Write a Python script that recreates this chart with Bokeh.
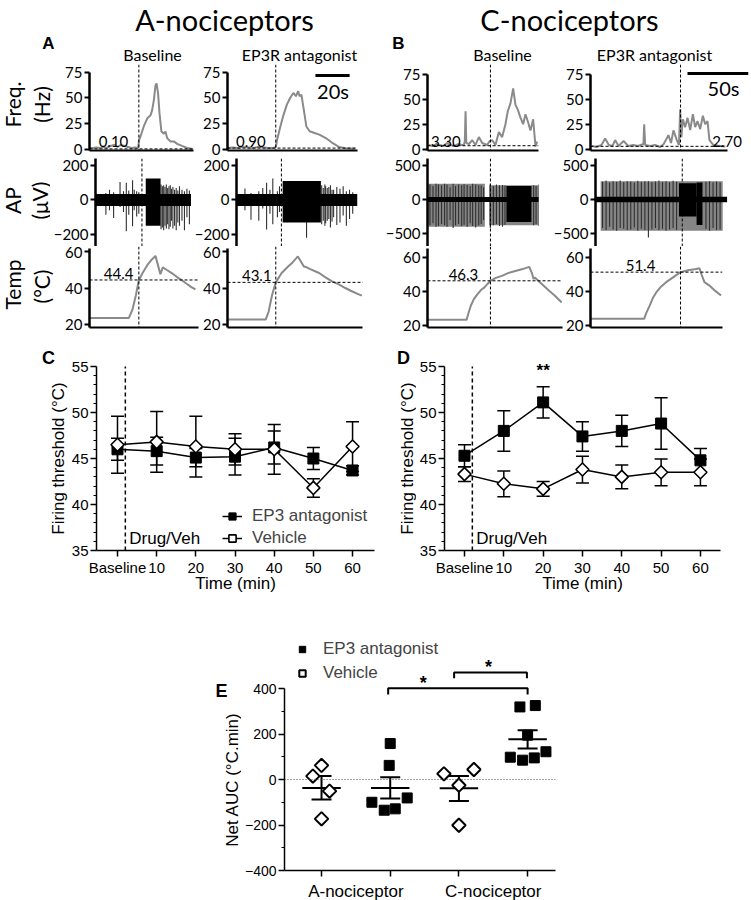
import math
from bokeh.plotting import figure
from bokeh.models import (Range1d, FixedTicker, Span, Whisker, TeeHead, ColumnDataSource,
                          Legend, LegendItem, Spacer)
from bokeh.layouts import row, column
from bokeh.embed import file_html
from bokeh.resources import INLINE
from bokeh.core.properties import value

TOP_FONT = "Lato"
BOT_FONT = "Liberation Sans"
TRACE = "#8a8a8a"

# ================= DATA: recordings (time in s) =================
# A-nociceptor baseline
a1_freq_t = [0, 2, 4, 6, 8, 10, 12, 14, 16, 18, 20, 22, 24, 26, 27.8, 28.3, 29.1, 31.0, 33.0, 34.9,
             35.8, 36.8, 37.7, 38.3, 39.2, 40.0, 41.1, 42.5, 43.4, 44.4, 46.3, 48.2, 50.1, 52.9, 55.8, 59.0]
a1_freq_hz = [1, 1, 1.5, 1, 2, 1, 3, 4, 2, 4, 3, 2, 1, 1.5, 1, 9, 12, 22, 30, 33,
              38, 48, 62, 64, 54, 35, 17, 15, 17, 10.6, 7.4, 7.4, 5, 3, 1, 0]
a1_temp_t = [0, 22.5, 24.5, 26.5, 28.2, 30.5, 33, 35.5, 37.7, 40.5, 41.9, 44, 47, 50, 52.4, 55.5, 58, 60.5]
a1_temp_c = [23.6, 23.6, 28, 36, 44.4, 48.5, 52.5, 55.5, 57.6, 47.6, 51.3, 50, 48.2, 46, 44.5, 42.3, 40.6, 39.2]
a1_ap_blk = dict(t0=[30.5], t1=[39.5], lo=[-150], hi=[125])
a1_ap_gray = dict(t0=[], t1=[], lo=[], hi=[])
a1_sp_t = [6.3, 8.5, 11.0, 14.9, 17.0, 18.7, 20.2, 22.5, 23.5, 25.0, 26.3,
           39.8, 40.6, 41.4, 42.2, 43.0, 43.8, 44.6, 45.4, 46.2, 47.0, 48.0, 49.0, 50.0,
           51.0, 52.5, 54.0, 55.5, 57.0, 58.5]
a1_sp_lo = [-86, -60, -105, -40, -70, -181, -86, -152, -60, -95, -80,
            -170, -160, -175, -150, -165, -140, -170, -155, -120, -165, -150, -175, -130,
            -150, -120, -175, -100, -140, -60]
a1_sp_hi = [40, 60, 45, 105, 50, 100, 55, 114, 60, 50, 45,
            90, 80, 85, 75, 90, 70, 80, 85, 65, 75, 60, 70, 55,
            80, 60, 50, 65, 55, 50]

# A-nociceptor EP3R antagonist
a2_freq_t = [0, 3, 6, 9, 12, 15, 18, 21, 24, 27, 28.3, 29, 30.9, 32.8, 34.7, 36.6, 38.5, 40, 41.3, 42.2,
             43.2, 44.6, 46.1, 48, 50.9, 53.7, 57.5, 61.3, 65.1, 68.9, 74.7]
a2_freq_hz = [1, 1.5, 1, 2, 1.5, 1, 2, 1.5, 1, 1, 2, 9.1, 22, 33.6, 43.3, 49.8, 54.7, 51.5, 56.4, 51.5,
              53.1, 38.4, 22, 17.3, 15.6, 14, 10.7, 5.9, 2, 0.7, 0.3]
a2_temp_t = [0, 22.3, 24, 26, 28.2, 31.6, 35.4, 38, 41.1, 44.6, 46, 48, 53.5, 57, 61.1, 65, 68.8, 72, 76, 78.5]
a2_temp_c = [22.7, 22.7, 27, 36, 43.1, 48.2, 51.8, 54, 57.3, 51.8, 51.5, 50.5, 48.2, 46, 43.6, 42, 40, 38.5, 36.8, 35.8]
a2_ap_blk = dict(t0=[29.0], t1=[53.0], lo=[-130], hi=[110])
a2_ap_gray = dict(t0=[], t1=[], lo=[], hi=[])
a2_sp_t = [5.3, 9.1, 14.0, 16.5, 18.9, 21.0, 22.8, 25.7, 27.0, 44.0, 53.5, 54.5, 55.5, 56.0, 57.0,
           58.0, 59.0, 60.0, 61.0, 63.0, 65.0, 67.0, 69.0, 71.0, 73.0]
a2_sp_lo = [-60, -114, -120, -50, -171, -80, -140, -100, -70, -219, -140, -120, -150, -135, -120,
            -110, -160, -125, -100, -145, -130, -90, -150, -110, -80]
a2_sp_hi = [67, 40, 50, 70, 100, 60, 124, 50, 80, 60, 85, 70, 90, 80, 70,
            75, 85, 60, 60, 75, 65, 80, 50, 60, 45]

# C-nociceptor baseline
b1_freq_t = [1.1, 4, 7, 10, 13, 16, 19, 22, 25, 28, 29.8, 30.6, 31.2, 31.8, 34, 36.6, 39.3, 42.1, 44.8, 48.9,
             51, 53, 55.7, 58.5, 61.2, 63.9, 65.8, 68, 70.2, 72.1, 74, 76.2, 78.4, 80.3, 82.2, 84.4, 86.6, 88.5, 89.9]
b1_freq_hz = [4, 3, 5, 4, 3, 6, 4, 3, 5, 4, 4, 8, 38, 6, 5, 9, 4, 12, 6, 4,
              8, 9, 4, 17, 12, 25, 38, 46, 61, 44.5, 39.7, 31.6, 25, 35, 28, 18.7, 30, 2.6, 7.4]
b1_temp_t = [0, 32, 33.5, 35.5, 38, 41, 44, 46.5, 49, 51.6, 56, 61, 66, 72, 78, 83.4, 85.5, 86.9, 88, 91.5, 95, 99.7, 104, 110]
b1_temp_c = [23.3, 23.3, 27, 31.6, 35.5, 38.4, 41, 42.3, 44.3, 46.3, 48, 49.2, 50.8, 52.1, 53.2, 54.5, 51, 47.3, 48.2, 45.9, 43.5, 40.4, 37.8, 33.5]
b1_ap_blk = dict(t0=[64.7], t1=[85.2], lo=[-330], hi=[200])
b1_ap_gray = dict(t0=[0.5, 50.5], t1=[47.0, 91.5], lo=[-400, -380], hi=[230, 210])
b1_sp_t = [2, 4.5, 7, 9, 11.5, 14, 16, 18.5, 21, 23, 25.5, 28, 30, 32.5, 35, 37, 39.5, 42, 44, 46,
           51.5, 54, 56.5, 59, 61.5, 63.5, 87, 89, 91]
b1_sp_lo = [-380, -350, -400, -390, -360, -380, -400, -300, -420, -380, -360, -390, -370, -400, -350, -390, -410, -380, -360, -300,
            -420, -380, -360, -390, -400, -370, -380, -360, -390]
b1_sp_hi = [220, 200, 230, 220, 210, 230, 220, 180, 230, 200, 220, 210, 225, 215, 200, 230, 220, 210, 205, 180,
            230, 200, 220, 210, 215, 205, 210, 200, 220]

# C-nociceptor EP3R antagonist
b2_freq_t = [1.1, 5, 9, 12, 15, 18, 20.2, 23, 27.1, 31, 35.2, 39, 43.4, 44, 44.8, 48.9, 53, 57.1, 60, 63.9,
             66, 68, 70.8, 72.5, 73.5, 74.5, 75.7, 77.6, 79.5, 81.7, 83.9, 85.8, 87.7, 89.9, 92.1, 94, 95.9, 97.5, 100.8, 106.3, 110.4]
b2_freq_hz = [3, 2, 4, 10.6, 4, 3, 9, 3, 8, 3, 4, 3, 5, 25, 4, 3, 4, 2, 5, 14,
              6, 18.7, 9, 4, 40, 12, 30, 22, 31.6, 19, 35, 22, 28, 20, 33.5, 25, 28, 9, 4, 3, 2.5]
b2_temp_t = [0, 44, 45.5, 48.6, 51, 54, 58, 62, 68, 73.8, 80, 86.6, 89.3, 91.5, 93.4, 97.5, 102, 107]
b2_temp_c = [23.9, 23.9, 27, 31.8, 36, 39.6, 43, 45.5, 48.5, 51.4, 52.5, 53.3, 53.7, 49, 45.5, 43.5, 40.5, 37.6]
b2_ap_blk = dict(t0=[71, 86], t1=[86, 91], lo=[-250, -375], hi=[240, 250])
b2_ap_gray = dict(t0=[4.4], t1=[108.2], lo=[-460], hi=[270])
b2_sp_t = [6, 9, 12, 15, 18, 21, 24, 27, 30, 33, 36, 39, 42, 45, 48, 51, 54, 57, 60, 63, 66, 69,
           94, 97, 100, 103, 106]
b2_sp_lo = [-420, -450, -400, -440, -460, -420, -430, -450, -440, -410, -460, -430, -450, -560, -440, -420, -450, -430, -460, -440, -420, -450,
            -430, -460, -420, -450, -440]
b2_sp_hi = [260, 280, 250, 270, 260, 280, 255, 270, 265, 250, 275, 260, 270, 270, 255, 265, 280, 260, 270, 255, 275, 260,
            260, 270, 255, 265, 250]

# thresholds / baselines
thr_time = [28.2, 28.2, 51.6, 73.8]
thr_temp = [44.4, 43.1, 46.3, 51.4]
thr_lbl = ["44.4", "43.1", "46.3", "51.4"]
base_freq = [0.10, 0.90, 3.30, 2.70]
base_lbl = ["0.10", "0.90", "3.30", "2.70"]
ap_band = [35, 35, 38, 42]

# ================= DATA: time course (C, D) =================
time_ticks = [0, 10, 20, 30, 40, 50, 60]
time_labels = ["Baseline", "10", "20", "30", "40", "50", "60"]
drug_time = 2
c_ep3 = [46.0, 45.8, 45.1, 45.2, 46.2, 45.0, 43.7]
c_ep3_err = [1.2, 1.5, 1.0, 2.0, 1.8, 1.2, 0.5]
c_veh = [46.5, 46.8, 46.3, 46.0, 46.0, 41.8, 46.3]
c_veh_err = [3.1, 3.3, 3.3, 1.7, 2.7, 1.0, 2.7]
d_ep3 = [45.3, 48.0, 51.1, 47.4, 48.0, 48.8, 44.8]
d_ep3_err = [1.2, 2.2, 1.7, 1.6, 1.7, 2.8, 1.3]
d_veh = [43.3, 42.25, 41.7, 43.8, 43.0, 43.5, 43.5]
d_veh_err = [0.8, 1.4, 0.8, 1.45, 1.3, 1.45, 1.45]

# ================= DATA: net AUC (E) =================
e_groups = ["A-nociceptor", "C-nociceptor"]
e_pos = [1, 2, 3, 4]  # A veh, A EP3, C veh, C EP3
e_aveh = [15, 62, -51, -173]
e_aveh_dx = [-0.126, 0.0, 0.117, 0.0]
e_aep3 = [158, 62, -100, -135, -129, -81]
e_aep3_dx = [0.0, -0.015, -0.267, -0.087, 0.073, 0.247]
e_cveh = [25, -25, 44, -201]
e_cveh_dx = [-0.218, 0.0, 0.218, 0.0]
e_cep3 = [319, 325, 195, 98, 85, 95, 122]
e_cep3_dx = [-0.112, 0.112, 0.0, -0.252, -0.073, 0.097, 0.267]
e_mean = [-37, -37, -39, 177]
e_sem_hi = [15, 10, 15, 217]
e_sem_lo = [-88, -84, -95, 136]


# ================= helpers =================
def blank_fig(w, h, x0, x1, ytop, ybot, top=0, bottom=0):
    p = figure(frame_width=w, frame_height=h, x_range=Range1d(x0, x1), y_range=Range1d(ybot, ytop),
               x_axis_type=None, y_axis_type=None, output_backend="svg", toolbar_location=None,
               min_border_left=0, min_border_right=0, min_border_top=top, min_border_bottom=bottom)
    p.grid.visible = False
    p.outline_line_color = None
    return p


def trace_fig(w, left, right, h, bottom, xend, y0, y1, yticks, yb1, xb_end):
    p = figure(width=w, height=h + bottom, x_range=Range1d(0, xend), y_range=Range1d(y0, y1),
               output_backend="svg", toolbar_location=None,
               min_border_left=left, min_border_right=right, min_border_top=0, min_border_bottom=bottom)
    p.grid.visible = False
    p.outline_line_color = None
    ya = p.yaxis[0]
    ya.ticker = FixedTicker(ticks=yticks, minor_ticks=[])
    ya.bounds = (y0, yb1)
    ya.axis_line_width = 2.5
    ya.major_tick_line_width = 2
    ya.major_tick_out = 5
    ya.major_tick_in = 0
    ya.minor_tick_out = 0
    ya.minor_tick_in = 0
    ya.major_label_text_font = TOP_FONT
    ya.major_label_text_font_size = "15px"
    ya.major_label_text_color = "black"
    ya.major_label_standoff = 2
    xa = p.xaxis[0]
    if xb_end is None:
        xa.visible = False
    else:
        xa.ticker = FixedTicker(ticks=[], minor_ticks=[])
        xa.bounds = (0, xb_end)
        xa.axis_line_width = 2
        xa.major_tick_out = 0
        xa.major_tick_in = 0
        xa.minor_tick_out = 0
        xa.minor_tick_in = 0
        xa.major_label_text_font_size = "0px"
        xa.major_label_standoff = 0
    return p


def vspan(p, t):
    p.add_layout(Span(location=t, dimension="height", line_color="black",
                      line_width=1, line_dash="3 2"))


def draw_freq(p, t, hz, i, base_end, lbl_x):
    p.line(t, hz, line_color=TRACE, line_width=2)
    p.line([0, base_end], [base_freq[i], base_freq[i]], line_color="black", line_width=1, line_dash="3 2")
    p.text([lbl_x], [2.0], [base_lbl[i]], text_font=value(TOP_FONT), text_font_size="15px",
           text_align="center", text_baseline="bottom", text_color="black")
    vspan(p, thr_time[i])


def draw_ap(p, i, t_end, gray, blk, sp_t, sp_lo, sp_hi):
    p.quad(left=gray["t0"], right=gray["t1"], bottom=gray["lo"], top=gray["hi"],
           fill_color="#858585", line_color=None)
    p.segment(x0=sp_t, y0=sp_lo, x1=sp_t, y1=sp_hi, line_color="#303030", line_width=1.1)
    p.quad(left=[0], right=[t_end], bottom=[-ap_band[i]], top=[ap_band[i]],
           fill_color="black", line_color=None)
    p.quad(left=blk["t0"], right=blk["t1"], bottom=blk["lo"], top=blk["hi"],
           fill_color="black", line_color=None)
    vspan(p, thr_time[i])


def draw_temp(p, t, c, i, line_end, lbl_x):
    p.line(t, c, line_color=TRACE, line_width=2)
    p.line([0, line_end], [thr_temp[i], thr_temp[i]], line_color="black", line_width=1, line_dash="3 2")
    p.text([lbl_x], [thr_temp[i] + 0.5], [thr_lbl[i]], text_font=value(TOP_FONT), text_font_size="15px",
           text_align="center", text_baseline="bottom", text_color="black")
    vspan(p, thr_time[i])


PX_A = 1.75   # px per second, A traces
PX_B = 1.22   # px per second, B traces
FB = 8        # bottom border of the frequency panels
TB = 7        # bottom border of the temperature panels
AP_T = 150 + FB   # AP frame top (page px)
AP_H = 246 - AP_T
A_TOP = 200 + (165 - AP_T) / 0.1725   # 200 uV drawn at page y 165
B_TOP = 500 + (165 - AP_T) / 0.068    # 500 uV drawn at page y 165

# ================= header =================
hdr = blank_fig(751, 64, 0, 751, 0, 64)
hdr.text([224, 569], [19, 19], ["A-nociceptors", "C-nociceptors"], text_font=value(TOP_FONT),
         text_font_size="29px", text_align="center", text_baseline="middle", text_color="black")
hdr.text([48, 398], [43, 43], ["A", "B"], text_font=value(BOT_FONT), text_font_style="bold",
         text_font_size="17px", text_align="center", text_baseline="middle", text_color="black")
hdr.text([152, 299, 502, 654], [54, 54, 54, 54], ["Baseline", "EP3R antagonist", "Baseline", "EP3R antagonist"],
         text_font=value(TOP_FONT), text_font_size="16px", text_align="center", text_baseline="middle",
         text_color="black")

# ================= frequency row (frame y 64-150) =================
lab_f = blank_fig(55, 86, 0, 55, 64, 150, bottom=FB)
lab_f.text([12, 41], [104, 104], ["Freq.", "(Hz)"], angle=math.pi / 2, text_font=value(TOP_FONT),
           text_font_size="21px", text_align="center", text_baseline="middle", text_color="black")

fA1 = trace_fig(145, 34, 7, 86, FB, 104 / PX_A, -1.46, 82.5, [0, 25, 50, 75], 75, 104 / PX_A)
draw_freq(fA1, a1_freq_t, a1_freq_hz, 0, 104 / PX_A, 13.7)
fA2 = trace_fig(175, 24, 18, 86, FB, 133 / PX_A, -1.46, 82.5, [0, 25, 50, 75], 75, 133 / PX_A)
draw_freq(fA2, a2_freq_t, a2_freq_hz, 1, 133 / PX_A, 13.7)
fA2.segment(x0=[51.4], y0=[71.8], x1=[71.4], y1=[71.8], line_color="black", line_width=3)
fA2.text([61.7], [57], ["20s"], text_font=value(TOP_FONT), text_font_size="20px",
         text_align="center", text_baseline="middle", text_color="black")
fB1 = trace_fig(180, 52, 17, 86, FB, 111 / PX_B, -1.51, 85.1, [0, 25, 50, 75], 75, 111 / PX_B)
draw_freq(fB1, b1_freq_t, b1_freq_hz, 2, 111 / PX_B, 15)
fB2 = trace_fig(196, 35, 3, 86, FB, 158 / PX_B, -1.51, 85.1, [0, 25, 50, 75], 75, 112)
draw_freq(fB2, b2_freq_t, b2_freq_hz, 3, 110.7, 112)
fB2.segment(x0=[79.5], y0=[76], x1=[129.5], y1=[76], line_color="black", line_width=3)
fB2.text([109], [61], ["50s"], text_font=value(TOP_FONT), text_font_size="20px",
         text_align="center", text_baseline="middle", text_color="black")

# ================= AP row =================
lab_ap = blank_fig(50, AP_H, 0, 50, AP_T, 246)
lab_ap.text([12, 38.5], [200, 200], ["AP", "(\u03bcV)"], angle=math.pi / 2, text_font=value(TOP_FONT),
            text_font_size="21px", text_align="center", text_baseline="middle", text_color="black")
apA1 = trace_fig(141, 39, 0, AP_H, 0, 102 / PX_A, -269.6, A_TOP, [-200, 0, 200], A_TOP, None)
draw_ap(apA1, 0, 59.5, a1_ap_gray, a1_ap_blk, a1_sp_t, a1_sp_lo, a1_sp_hi)
apA2 = trace_fig(184, 33, 18, AP_H, 0, 133 / PX_A, -269.6, A_TOP, [-200, 0, 200], A_TOP, None)
draw_ap(apA2, 1, 76, a2_ap_gray, a2_ap_blk, a2_sp_t, a2_sp_lo, a2_sp_hi)
apB1 = trace_fig(175, 52, 12, AP_H, 0, 111 / PX_B, -691, B_TOP, [-500, 0, 500], B_TOP, None)
draw_ap(apB1, 2, 91.5, b1_ap_gray, b1_ap_blk, b1_sp_t, b1_sp_lo, b1_sp_hi)
apB2 = trace_fig(201, 40, 24, AP_H, 0, 137 / PX_B, -691, B_TOP, [-500, 0, 500], B_TOP, None)
draw_ap(apB2, 3, 112, b2_ap_gray, b2_ap_blk, b2_sp_t, b2_sp_lo, b2_sp_hi)

# ================= temperature row (frame y 246-327) =================
lab_t = blank_fig(55, 81, 0, 55, 246, 327, bottom=TB)
lab_t.text([12, 41], [284, 286], ["Temp", "(\u00b0C)"], angle=math.pi / 2, text_font=value(TOP_FONT),
           text_font_size="21px", text_align="center", text_baseline="middle", text_color="black")
tA1 = trace_fig(145, 34, 1, 81, TB, 110 / PX_A, 18.36, 62.74, [20, 40, 60], 61.6, 62)
draw_temp(tA1, a1_temp_t, a1_temp_c, 0, 62, 16.6)
tA2 = trace_fig(175, 24, 12, 81, TB, 139 / PX_A, 18.36, 62.74, [20, 40, 60], 61.6, 79)
draw_temp(tA2, a2_temp_t, a2_temp_c, 1, 79, 17.1)
tB1 = trace_fig(188, 52, 1, 81, TB, 135 / PX_B, 18.8, 66.5, [20, 40, 60], 65.3, 110.7)
draw_temp(tB1, b1_temp_t, b1_temp_c, 2, 110.7, 29.5)
tB2 = trace_fig(188, 27, 24, 81, TB, 137 / PX_B, 18.8, 66.5, [20, 40, 60], 65.3, 108)
draw_temp(tB2, b2_temp_t, b2_temp_c, 3, 108, 41)


# ================= C / D =================
R2_TOP, R2_FT, R2_FB = 327 + TB, 337, 550   # row top, frame top, frame bottom (page px)
R2_BT, R2_BB = R2_FT - R2_TOP, 52           # top / bottom borders


def style_axis(ax, tick_size="15px"):
    ax.axis_line_width = 1.5
    ax.major_tick_line_width = 1.5
    ax.minor_tick_line_width = 1.2
    ax.major_tick_out = 6
    ax.major_tick_in = 0
    ax.minor_tick_out = 3
    ax.minor_tick_in = 0
    ax.major_label_text_font = BOT_FONT
    ax.major_label_text_font_size = tick_size
    ax.major_label_text_color = "black"
    ax.major_label_standoff = 2
    ax.axis_label_text_font = BOT_FONT
    ax.axis_label_text_font_size = "17px"
    ax.axis_label_text_font_style = "normal"
    ax.axis_label_text_color = "black"
    ax.axis_label_standoff = 1


def thr_fig(fw, left, right, x0, x1, ep3, ep3_err, veh, veh_err):
    p = figure(frame_width=fw, frame_height=R2_FB - R2_FT, x_range=Range1d(x0, x1),
               y_range=Range1d(35, 55 + (366 - R2_FT) / 9.2),
               output_backend="svg", toolbar_location=None,
               min_border_left=left, min_border_right=right, min_border_top=R2_BT, min_border_bottom=R2_BB)
    p.grid.visible = False
    p.outline_line_color = None
    xa = p.xaxis[0]
    xa.ticker = FixedTicker(ticks=time_ticks, minor_ticks=[])
    xa.major_label_overrides = {t: l for t, l in zip(time_ticks, time_labels)}
    xa.axis_label = "Time (min)"
    ya = p.yaxis[0]
    ya.ticker = FixedTicker(ticks=[35, 40, 45, 50, 55],
                            minor_ticks=[v for v in range(36, 55) if v % 5 != 0])
    ya.bounds = (35, 55)
    style_axis(xa)
    style_axis(ya)
    xa.minor_tick_out = 0
    xa.axis_label_standoff = -5
    p.segment(x0=[drug_time], y0=[35], x1=[drug_time], y1=[55], line_color="black",
              line_width=1.5, line_dash="4 3")
    p.text([drug_time + 1], [36.3], ["Drug/Veh"], text_font=value(BOT_FONT), text_font_size="17px",
           text_align="left", text_baseline="middle", text_color="black")
    for vals, err in ((ep3, ep3_err), (veh, veh_err)):
        src = ColumnDataSource(dict(x=time_ticks, lo=[v - e for v, e in zip(vals, err)],
                                    hi=[v + e for v, e in zip(vals, err)]))
        p.add_layout(Whisker(base="x", lower="lo", upper="hi", source=src, line_width=1.5,
                             line_color="black",
                             upper_head=TeeHead(size=13, line_width=1.5, line_color="black"),
                             lower_head=TeeHead(size=13, line_width=1.5, line_color="black")))
    l1 = p.line(time_ticks, ep3, line_color="black", line_width=1.5)
    l2 = p.line(time_ticks, veh, line_color="black", line_width=1.5)
    s1 = p.scatter(time_ticks, ep3, marker="square", size=11, fill_color="black", line_color="black")
    s2 = p.scatter(time_ticks, veh, marker="square", angle=math.pi / 4, size=9.2, fill_color="white",
                   line_color="black", line_width=1.6)
    return p, (l1, s1, l2, s2)


labC = blank_fig(68, R2_FB - R2_FT, 0, 68, R2_FT, R2_FB, top=R2_BT, bottom=R2_BB)
labC.text([48], [357], ["C"], text_font=value(BOT_FONT), text_font_style="bold", text_font_size="18px",
          text_align="center", text_baseline="middle", text_color="black")
labC.text([58], [458], ["Firing threshold (\u00b0C)"], angle=math.pi / 2, text_font=value(BOT_FONT),
          text_font_size="17px", text_align="center", text_baseline="middle", text_color="black")
pC, rC = thr_fig(278, 26, 8, -5.36, 65.6, c_ep3, c_ep3_err, c_veh, c_veh_err)
legC = Legend(items=[LegendItem(label="EP3 antagonist", renderers=[rC[0], rC[1]]),
                     LegendItem(label="Vehicle", renderers=[rC[2], rC[3]])],
              location=(126, 2), border_line_color=None, background_fill_alpha=0,
              label_text_font=BOT_FONT, label_text_font_size="17px", glyph_width=20, glyph_height=18,
              label_height=18, spacing=2, padding=0, margin=0, label_standoff=10)
pC.add_layout(legC)

labD = blank_fig(34, R2_FB - R2_FT, 380, 414, R2_FT, R2_FB, top=R2_BT, bottom=R2_BB)
labD.text([401], [357], ["D"], text_font=value(BOT_FONT), text_font_style="bold", text_font_size="18px",
          text_align="center", text_baseline="middle", text_color="black")
labD.text([405], [458], ["Firing threshold (\u00b0C)"], angle=math.pi / 2, text_font=value(BOT_FONT),
          text_font_size="17px", text_align="center", text_baseline="middle", text_color="black")
pD, rD = thr_fig(276, 28, 33, -5.08, 65.1, d_ep3, d_ep3_err, d_veh, d_veh_err)
pD.text([20], [54.6], ["**"], text_font=value(BOT_FONT), text_font_style="bold", text_font_size="17px",
        text_align="center", text_baseline="middle", text_color="black")

# ================= E =================
E_FT, E_FB = 624, 870
pE = figure(frame_width=271, frame_height=E_FB - E_FT, x_range=Range1d(0.461, 4.406),
            y_range=Range1d(-400, 400 + (688 - E_FT) / 0.2275),
            output_backend="svg", toolbar_location=None,
            min_border_left=38, min_border_right=10, min_border_top=22, min_border_bottom=27)
pE.grid.visible = False
pE.outline_line_color = None
xe = pE.xaxis[0]
xe.ticker = FixedTicker(ticks=[1.5, 3.5], minor_ticks=e_pos)
xe.major_label_overrides = {1.5: e_groups[0], 3.5: e_groups[1]}
ye = pE.yaxis[0]
ye.ticker = FixedTicker(ticks=[-400, -200, 0, 200, 400], minor_ticks=[-300, -100, 100, 300])
ye.bounds = (-400, 400)
style_axis(xe, "17px")
style_axis(ye, "14px")
xe.major_tick_out = 0
xe.minor_tick_out = 6
xe.minor_tick_line_width = 1.5
xe.major_label_standoff = 5

pE.add_layout(Span(location=0, dimension="width", line_color="#444444", line_width=1, line_dash="1 2"))
pE.segment(x0=[x - 0.28 for x in e_pos], y0=e_mean, x1=[x + 0.28 for x in e_pos], y1=e_mean,
           line_color="black", line_width=2)
srcE = ColumnDataSource(dict(x=e_pos, lo=e_sem_lo, hi=e_sem_hi))
pE.add_layout(Whisker(base="x", lower="lo", upper="hi", source=srcE, line_width=2, line_color="black",
                      upper_head=TeeHead(size=20, line_width=2, line_color="black"),
                      lower_head=TeeHead(size=20, line_width=2, line_color="black")))
sq_kw = dict(marker="square", size=10, fill_color="black", line_color="black")
di_kw = dict(marker="square", angle=math.pi / 4, size=9.5, fill_color="white", line_color="black", line_width=2)
rE_sq = pE.scatter([e_pos[1] + d for d in e_aep3_dx], e_aep3, **sq_kw)
pE.scatter([e_pos[3] + d for d in e_cep3_dx], e_cep3, **sq_kw)
rE_di = pE.scatter([e_pos[0] + d for d in e_aveh_dx], e_aveh, **di_kw)
pE.scatter([e_pos[2] + d for d in e_cveh_dx], e_cveh, **di_kw)
# significance brackets
pE.line([1.97, 1.97, 4.0, 4.0], [374, 401, 401, 374], line_color="black", line_width=2)
pE.line([2.93, 2.93, 3.99, 3.99], [445, 470, 470, 445], line_color="black", line_width=2)
pE.text([2.48, 3.43], [425, 494], ["*", "*"], text_font=value(BOT_FONT), text_font_style="bold",
        text_font_size="18px", text_align="center", text_baseline="middle", text_color="black")
legE = Legend(items=[LegendItem(label="EP3 antagonist", renderers=[rE_sq]),
                     LegendItem(label="Vehicle", renderers=[rE_di])],
              location=(10, E_FB - 683), border_line_color=None, background_fill_alpha=0,
              label_text_font=BOT_FONT, label_text_font_size="17px", glyph_width=16, glyph_height=20,
              label_height=20, spacing=4, padding=0, margin=0, label_standoff=13)
pE.add_layout(legE)

labE = blank_fig(36, E_FB - E_FT, 205, 241, E_FT, E_FB, top=22, bottom=27)
labE.text([221], [690], ["E"], text_font=value(BOT_FONT), text_font_style="bold", text_font_size="18px",
          text_align="center", text_baseline="middle", text_color="black")
labE.text([232], [779], ["Net AUC (\u00b0C.min)"], angle=math.pi / 2, text_font=value(BOT_FONT),
          text_font_size="17px", text_align="center", text_baseline="middle", text_color="black")

# ================= layout =================
layout = column(
    hdr,
    row(lab_f, fA1, fA2, fB1, fB2),
    row(lab_ap, apA1, apA2, apB1, apB2),
    row(lab_t, tA1, tA2, tB1, tB2),
    row(labC, pC, labD, pD),
    row(Spacer(width=205, height=22 + (E_FB - E_FT) + 27), labE, pE),
)

open("out.html", "w").write(file_html(layout, INLINE))
